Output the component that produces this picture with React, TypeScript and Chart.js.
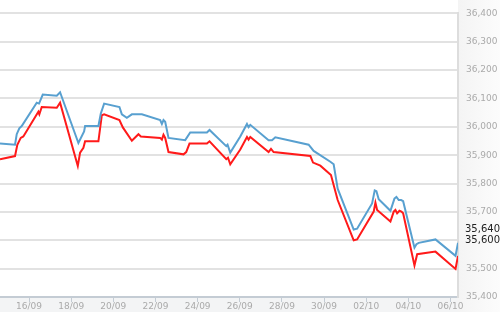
import { useEffect, useRef } from "react";
import { Chart, registerables } from "chart.js";

Chart.register(...registerables);

// x values are days counted from 16/09 00:00
const tickDays = [0, 2, 4, 6, 8, 10, 12, 14, 16, 18, 20];
const tickLabels = ["16/09", "18/09", "20/09", "22/09", "24/09", "26/09", "28/09", "30/09", "02/10", "04/10", "06/10"];

const sellDays = [
  -1.378, -0.665, -0.584, -0.461, -0.347, 0.366, 0.475, 0.651, 1.316, 1.473, 2.342, 2.613, 2.66, 3.292, 3.406, 3.563,
  4.29, 4.404, 4.641, 4.879, 5.354, 6.223, 6.304, 6.38, 6.461, 6.618, 7.411, 7.648, 8.442, 8.565, 9.359, 9.42, 9.549,
  10.024, 10.342, 10.418, 10.499, 11.368, 11.53, 11.686, 13.268, 13.506, 14.299, 14.456, 14.646, 15.406, 15.568,
  16.28, 16.404, 16.485, 16.594, 17.15, 17.34, 17.435, 17.544, 17.658, 17.753, 18.29, 18.385, 18.494, 19.287, 20.238, 20.356,
];
const sellValues = [
  35941, 35937, 35974, 35995, 36003, 36085, 36082, 36114, 36110, 36122, 35943, 35984, 36003, 36003, 36047, 36082,
  36070, 36044, 36032, 36044, 36044, 36024, 36010, 36024, 36018, 35961, 35953, 35980, 35980, 35989, 35932, 35937, 35909,
  35966, 36010, 35999, 36007, 35953, 35953, 35963, 35937, 35915, 35877, 35868, 35782, 35638, 35641,
  35730, 35776, 35773, 35745, 35704, 35747, 35753, 35742, 35742, 35738, 35574, 35586, 35591, 35603, 35545, 35591,
];

const buyDays = [
  -1.378, -0.665, -0.556, -0.394, -0.271, 0.442, 0.489, 0.603, 1.316, 1.473, 2.314, 2.423, 2.58, 2.66, 3.292, 3.454,
  3.563, 4.29, 4.451, 4.879, 5.192, 5.306, 6.223, 6.304, 6.38, 6.461, 6.618, 7.331, 7.458, 7.615, 8.442, 8.565, 9.359,
  9.44, 9.549, 10.024, 10.342, 10.418, 10.499, 11.368, 11.482, 11.606, 13.349, 13.477, 13.824, 14.328, 14.646, 15.406,
  15.568, 16.356, 16.437, 16.518, 17.15, 17.306, 17.387, 17.468, 17.577, 17.672, 17.753, 18.29, 18.418, 19.287, 20.238, 20.356,
];
const buyValues = [
  35886, 35897, 35937, 35961, 35966, 36053, 36044, 36070, 36067, 36085, 35862, 35909, 35926, 35949, 35949, 36041,
  36044, 36024, 35998, 35951, 35974, 35966, 35961, 35955, 35972, 35961, 35911, 35903, 35911, 35941, 35941, 35949, 35886,
  35891, 35868, 35920, 35964, 35955, 35964, 35911, 35922, 35911, 35897, 35874, 35863, 35830, 35742, 35600,
  35603, 35701, 35733, 35707, 35666, 35701, 35707, 35695, 35704, 35701, 35695, 35511, 35551, 35560, 35499, 35545,
];

const markerLabels = [35640, 35600];

const Y_MIN = 35400;
const Y_MAX = 36400;
const FONT = "'DejaVu Sans', Verdana, sans-serif";

export default function App() {
  const ref = useRef<HTMLCanvasElement | null>(null);

  useEffect(() => {
    document.body.style.margin = "0";
    const canvas = ref.current;
    if (!canvas) return;

    const bgPlugin = {
      id: "bgPlugin",
      beforeDraw(chart: any) {
        const { ctx, chartArea, width, height } = chart;
        ctx.save();
        ctx.fillStyle = "#ffffff";
        ctx.fillRect(0, 0, width, height);
        const g = ctx.createLinearGradient(chartArea.right, 0, width, 0);
        g.addColorStop(0, "#f4f4f4");
        g.addColorStop(1, "#fcfcfc");
        ctx.fillStyle = g;
        ctx.fillRect(chartArea.right, 0, width - chartArea.right, height);
        ctx.fillStyle = "#f3f4f5";
        ctx.fillRect(0, chartArea.bottom, chartArea.right, height - chartArea.bottom);
        ctx.fillStyle = "#ffffff";
        ctx.fillRect(chartArea.left, chartArea.top, chartArea.right - chartArea.left, chartArea.bottom - chartArea.top);
        ctx.restore();
      },
      afterDraw(chart: any) {
        const { ctx, chartArea, scales } = chart;
        ctx.save();
        ctx.font = `10px ${FONT}`;
        ctx.fillStyle = "#222222";
        ctx.textAlign = "left";
        ctx.textBaseline = "middle";
        markerLabels.forEach((v) => {
          const y = scales.y.getPixelForValue(v);
          ctx.fillText(v.toLocaleString("en-US"), chartArea.right + 7, y);
        });
        ctx.restore();
      },
    };

    const chart = new Chart(canvas, {
      type: "line",
      data: {
        datasets: [
          {
            label: "Sell",
            data: sellDays.map((d, i) => ({ x: d, y: sellValues[i] })),
            borderColor: "#58a0d0",
            borderWidth: 2,
            pointRadius: 0,
            tension: 0,
            fill: false,
          },
          {
            label: "Buy",
            data: buyDays.map((d, i) => ({ x: d, y: buyValues[i] })),
            borderColor: "#ff1a1a",
            borderWidth: 2,
            pointRadius: 0,
            tension: 0,
            fill: false,
          },
        ],
      },
      options: {
        animation: false,
        responsive: false,
        maintainAspectRatio: false,
        devicePixelRatio: 1,
        layout: { padding: { top: 8, left: 0, right: 0, bottom: 0 } },
        plugins: { legend: { display: false }, tooltip: { enabled: false } },
        scales: {
          x: {
            type: "linear",
            position: "bottom",
            min: sellDays[0],
            max: sellDays[sellDays.length - 1],
            afterBuildTicks: (axis: any) => {
              axis.ticks = tickDays.map((v) => ({ value: v }));
            },
            afterFit: (axis: any) => {
              axis.height = 15;
            },
            grid: { drawOnChartArea: false, drawTicks: true, tickLength: 5, color: "#c4ccd4", lineWidth: 1 },
            border: { display: true, color: "#c4ccd4", width: 2 },
            ticks: {
              autoSkip: false,
              maxRotation: 0,
              padding: -1,
              color: "#aaaaaa",
              font: { family: FONT, size: 9 },
              callback: (value: any) => {
                const idx = tickDays.indexOf(Number(value));
                return idx >= 0 ? tickLabels[idx] : "";
              },
            },
          },
          y: {
            type: "linear",
            position: "right",
            min: Y_MIN,
            max: Y_MAX,
            afterFit: (axis: any) => {
              axis.width = 42;
            },
            grid: { drawTicks: false, color: "#e2e2e2", lineWidth: 2 },
            border: { display: true, color: "#dddddd", width: 2 },
            ticks: {
              stepSize: 100,
              padding: 8,
              color: "#aaaaaa",
              font: { family: FONT, size: 9 },
              callback: (value: any) =>
                markerLabels.includes(Number(value)) ? "" : Number(value).toLocaleString("en-US"),
            },
          },
        },
      },
      plugins: [bgPlugin],
    } as any);

    return () => chart.destroy();
  }, []);

  return (
    <div style={{ width: 500, height: 312, position: "relative" }}>
      <canvas ref={ref} width={500} height={312} style={{ display: "block" }} />
    </div>
  );
}
